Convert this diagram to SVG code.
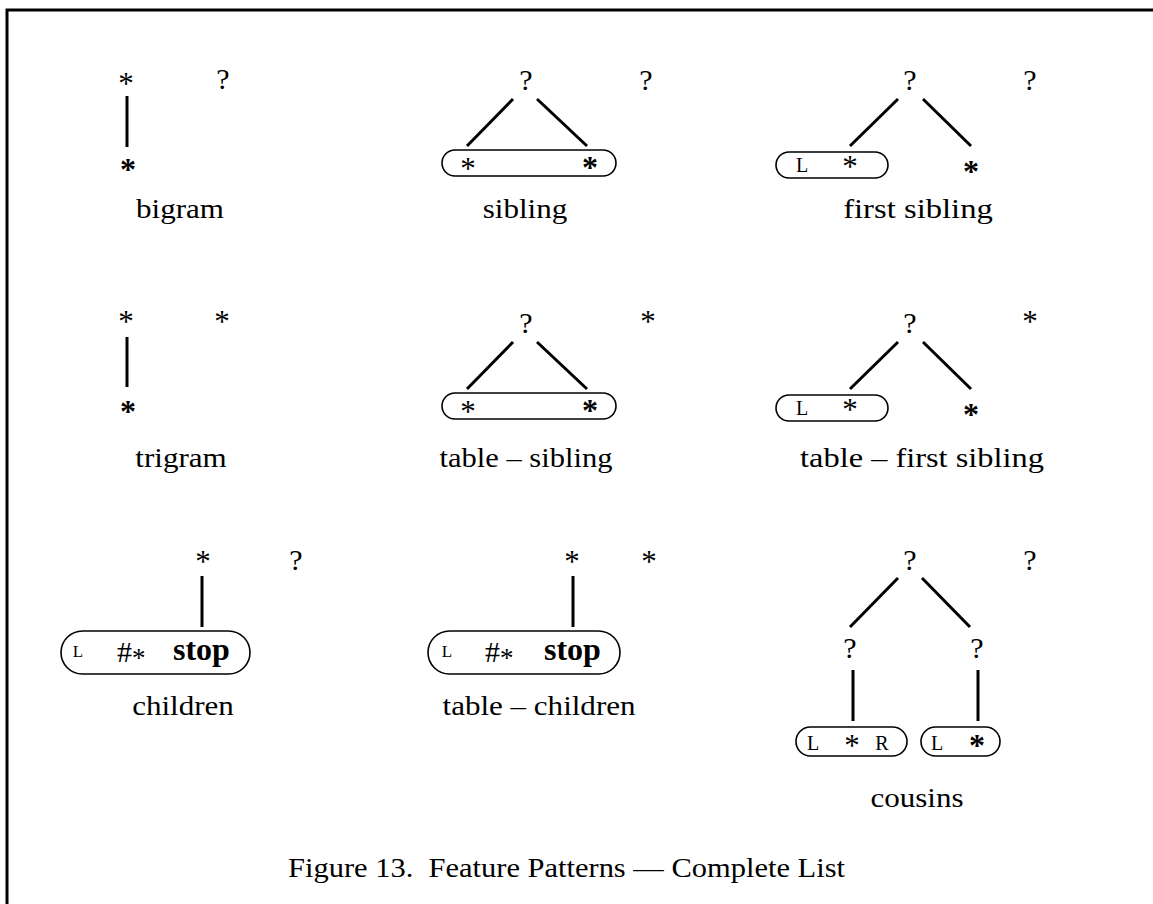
<svg xmlns="http://www.w3.org/2000/svg" width="1153" height="904" viewBox="0 0 1153 904">
<style>
text{font-family:"Liberation Serif","Times New Roman",serif;fill:#000}
.s{font-size:31px;text-anchor:middle}
.q{font-size:30px;text-anchor:middle}
.b{font-weight:bold;font-size:32px}
.lab{font-size:27px;text-anchor:middle}
.sm{font-size:20px;text-anchor:middle}
.xs{font-size:17px;text-anchor:middle}
.stop{font-size:32px;font-weight:bold}
.e{stroke:#000;stroke-width:3;fill:none}
.box{fill:none;stroke:#000;stroke-width:1.6}
</style>
<rect width="1153" height="904" fill="#fff"/>
<g id="frame"><path d="M7 904 V10 H1153" class="e"/></g>

<g id="connectors">
<line class="e" x1="127" y1="96" x2="127" y2="147"/>
<line class="e" x1="467" y1="146" x2="513" y2="99"/>
<line class="e" x1="537" y1="99" x2="587" y2="146"/>
<line class="e" x1="850" y1="146" x2="898" y2="99"/>
<line class="e" x1="923" y1="99" x2="971" y2="146"/>
<line class="e" x1="127" y1="337" x2="127" y2="387"/>
<line class="e" x1="467" y1="389" x2="513" y2="342"/>
<line class="e" x1="537" y1="342" x2="587" y2="389"/>
<line class="e" x1="850" y1="389" x2="898" y2="342"/>
<line class="e" x1="923" y1="342" x2="971" y2="389"/>
<line class="e" x1="202" y1="576" x2="202" y2="627"/>
<line class="e" x1="573" y1="576" x2="573" y2="627"/>
<line class="e" x1="850" y1="627" x2="898" y2="578"/>
<line class="e" x1="922" y1="578" x2="970" y2="627"/>
<line class="e" x1="853" y1="670" x2="853" y2="721"/>
<line class="e" x1="978" y1="670" x2="978" y2="721"/>
</g>

<g id="bigram">
<text class="s" x="126" y="94">*</text>
<text class="q" x="223" y="89">?</text>
<text class="s b" x="128" y="180">*</text>
<text class="lab" transform="translate(180,218) scale(1.15,1)">bigram</text>
</g>

<g id="sibling">
<text class="q" x="526" y="90">?</text>
<text class="q" x="646" y="90">?</text>
<rect class="box" x="442" y="150" width="174" height="26" rx="13"/>
<text class="s" x="468" y="179">*</text>
<text class="s b" x="590" y="178">*</text>
<text class="lab" transform="translate(525,218) scale(1.15,1)">sibling</text>
</g>

<g id="first-sibling">
<text class="q" x="910" y="90">?</text>
<text class="q" x="1030" y="90">?</text>
<rect class="box" x="776" y="152" width="112" height="26" rx="13"/>
<text class="sm" x="802" y="172">L</text>
<text class="s" x="850" y="177">*</text>
<text class="s b" x="971" y="182">*</text>
<text class="lab" transform="translate(918,218) scale(1.21,1)">first sibling</text>
</g>

<g id="trigram">
<text class="s" x="126" y="332">*</text>
<text class="s" x="222" y="332">*</text>
<text class="s b" x="128" y="422">*</text>
<text class="lab" transform="translate(181,467) scale(1.15,1)">trigram</text>
</g>

<g id="table-sibling">
<text class="q" x="526" y="333">?</text>
<text class="s" x="648" y="332">*</text>
<rect class="box" x="442" y="393" width="174" height="26" rx="13"/>
<text class="s" x="468" y="422">*</text>
<text class="s b" x="590" y="421">*</text>
<text class="lab" transform="translate(526,467) scale(1.13,1)">table – sibling</text>
</g>

<g id="table-first-sibling">
<text class="q" x="910" y="333">?</text>
<text class="s" x="1030" y="332">*</text>
<rect class="box" x="776" y="395" width="112" height="26" rx="13"/>
<text class="sm" x="802" y="415">L</text>
<text class="s" x="850" y="420">*</text>
<text class="s b" x="971" y="425">*</text>
<text class="lab" transform="translate(922,467) scale(1.2,1)">table – first sibling</text>
</g>

<g id="children">
<text class="s" x="203" y="572">*</text>
<text class="q" x="296" y="570">?</text>
<rect class="box" x="61" y="631" width="189" height="43" rx="21.5"/>
<text class="xs" x="78" y="657">L</text>
<text x="117" y="662" style="font-size:30px">#<tspan dy="5" style="font-size:27px">*</tspan></text>
<text class="stop" x="173" y="660">stop</text>
<text class="lab" transform="translate(183,715) scale(1.15,1)">children</text>
</g>

<g id="table-children">
<text class="s" x="572" y="572">*</text>
<text class="s" x="649" y="572">*</text>
<rect class="box" x="428" y="631" width="192" height="43" rx="21.5"/>
<text class="xs" x="447" y="657">L</text>
<text x="485" y="662" style="font-size:30px">#<tspan dy="5" style="font-size:27px">*</tspan></text>
<text class="stop" x="544" y="660">stop</text>
<text class="lab" transform="translate(539,715) scale(1.15,1)">table – children</text>
</g>

<g id="cousins">
<text class="q" x="910" y="570">?</text>
<text class="q" x="1030" y="570">?</text>
<text class="q" x="850" y="658">?</text>
<text class="q" x="977" y="658">?</text>
<rect class="box" x="796" y="727" width="111" height="29" rx="14.5"/>
<rect class="box" x="921" y="727" width="79" height="29" rx="14.5"/>
<text class="sm" x="813" y="750">L</text>
<text class="s" x="852" y="756">*</text>
<text class="sm" x="882" y="750">R</text>
<text class="sm" x="937" y="750">L</text>
<text class="s b" x="977" y="756">*</text>
<text class="lab" transform="translate(917,807) scale(1.15,1)">cousins</text>
</g>

<g id="caption">
<text x="288" y="877" style="font-size:27px" textLength="557" lengthAdjust="spacingAndGlyphs">Figure 13.&#160; Feature Patterns — Complete List</text>
</g>
</svg>
